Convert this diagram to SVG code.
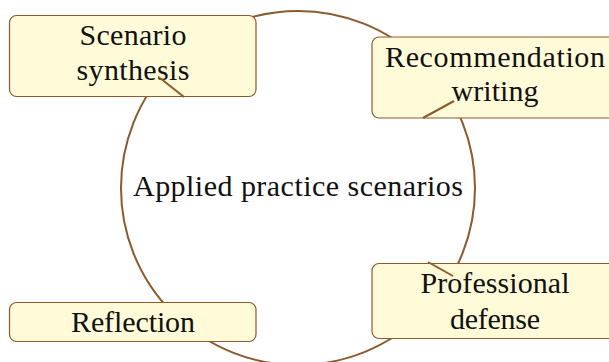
<svg xmlns="http://www.w3.org/2000/svg" width="609" height="362" viewBox="0 0 609 362">
<style>
.box{fill:#fffbd8;stroke:#8c5a2b;stroke-width:1.2}
.ln{fill:none;stroke:#8c5a2b;stroke-width:2}
text{font-family:"Liberation Serif","DejaVu Serif",serif;font-size:30px;fill:#111;text-anchor:middle}
</style>
<rect width="609" height="362" fill="#fff"/>
<g id="cycle">
<circle class="ln" cx="298" cy="188" r="177"/>
<text x="298" y="196" textLength="330" lengthAdjust="spacing">Applied practice scenarios</text>
</g>
<g id="n1">
<rect class="box" x="9.5" y="15.5" width="246.5" height="81" rx="7"/>
<text x="133" y="45" textLength="107" lengthAdjust="spacing">Scenario</text>
<text x="133" y="80" textLength="113" lengthAdjust="spacing">synthesis</text>
</g>
<g id="n2">
<rect class="box" x="372" y="37" width="246" height="81" rx="7"/>
<text x="495" y="67" textLength="220" lengthAdjust="spacing">Recommendation</text>
<text x="495" y="101" textLength="87" lengthAdjust="spacing">writing</text>
</g>
<g id="n3">
<rect class="box" x="372" y="263.5" width="246" height="75" rx="7"/>
<text x="495" y="293" textLength="149" lengthAdjust="spacing">Professional</text>
<text x="495" y="329" textLength="90" lengthAdjust="spacing">defense</text>
</g>
<g id="n4">
<rect class="box" x="9.5" y="302.5" width="246.5" height="39" rx="7"/>
<text x="133" y="332" textLength="124" lengthAdjust="spacing">Reflection</text>
</g>
<g id="connectors">
<line class="ln" x1="160" y1="78" x2="184" y2="97"/>
<line class="ln" x1="423" y1="118" x2="454" y2="101"/>
<line class="ln" x1="428" y1="262" x2="453" y2="276"/>
</g>
</svg>
